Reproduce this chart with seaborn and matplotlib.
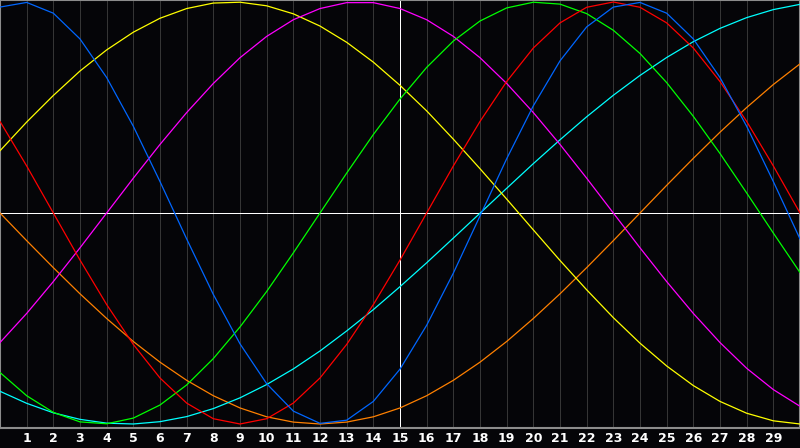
import pandas as pd
import seaborn as sns
import matplotlib.pyplot as plt

# Days shown on the chart (0 .. 30), labels only for 1 .. 29
days = list(range(31))
day_labels = [str(d) for d in range(1, 30)]

# Curve values per day (-1 = bottom, 1 = top)
blue = [0.976, 0.998, 0.947, 0.825, 0.642, 0.411, 0.149, -0.123, -0.386, -0.620,
        -0.809, -0.939, -0.997, -0.982, -0.893, -0.740, -0.532, -0.285, -0.014, 0.257,
        0.508, 0.721, 0.882, 0.976, 0.998, 0.947, 0.825, 0.642, 0.411, 0.149, -0.123]
red = [0.434, 0.223, 0.0, -0.223, -0.434, -0.623, -0.782, -0.901, -0.975, -1.0,
       -0.975, -0.901, -0.782, -0.623, -0.434, -0.223, 0.0, 0.223, 0.434, 0.623,
       0.782, 0.901, 0.975, 1.0, 0.975, 0.901, 0.782, 0.623, 0.434, 0.223, 0.0]
green = [-0.756, -0.866, -0.945, -0.990, -0.999, -0.972, -0.910, -0.815, -0.690, -0.540,
         -0.372, -0.189, 0.0, 0.189, 0.372, 0.540, 0.690, 0.815, 0.910, 0.972,
         0.999, 0.990, 0.945, 0.866, 0.756, 0.618, 0.458, 0.282, 0.095, -0.095, -0.282]
magenta = [-0.614, -0.476, -0.325, -0.165, 0.0, 0.165, 0.325, 0.476, 0.614, 0.736,
           0.837, 0.916, 0.969, 0.997, 0.997, 0.969, 0.916, 0.837, 0.736, 0.614,
           0.476, 0.325, 0.165, 0.0, -0.165, -0.325, -0.476, -0.614, -0.736, -0.837, -0.916]
yellow = [0.295, 0.431, 0.557, 0.673, 0.773, 0.857, 0.923, 0.969, 0.995, 0.999,
          0.982, 0.944, 0.886, 0.809, 0.715, 0.605, 0.484, 0.350, 0.210, 0.066,
          -0.080, -0.225, -0.364, -0.496, -0.617, -0.725, -0.818, -0.893, -0.949, -0.985, -1.0]
orange = [0.0, -0.131, -0.259, -0.383, -0.5, -0.609, -0.707, -0.793, -0.866, -0.924,
          -0.966, -0.991, -1.0, -0.991, -0.966, -0.924, -0.866, -0.793, -0.707, -0.609,
          -0.5, -0.383, -0.259, -0.131, 0.0, 0.131, 0.259, 0.383, 0.5, 0.609, 0.707]
cyan = [-0.845, -0.902, -0.947, -0.978, -0.996, -1.0, -0.989, -0.965, -0.927, -0.876,
        -0.813, -0.739, -0.654, -0.559, -0.458, -0.349, -0.236, -0.119, -0.001, 0.117,
        0.234, 0.347, 0.456, 0.558, 0.652, 0.737, 0.812, 0.875, 0.926, 0.964, 0.989]

series = {'orange': orange, 'cyan': cyan, 'yellow': yellow, 'magenta': magenta,
          'green': green, 'red': red, 'blue': blue}
colours = {'orange': '#ff8000', 'cyan': '#00ffff', 'yellow': '#ffff00',
           'magenta': '#ff00ff', 'green': '#00ff00', 'red': '#ff0000', 'blue': '#0066ff'}

df = pd.concat([pd.DataFrame({'day': days, 'value': v, 'curve': k}) for k, v in series.items()])

sns.set_style('dark', {'axes.facecolor': '#050508', 'figure.facecolor': '#050508',
                       'axes.edgecolor': '#8c8c8c', 'grid.color': '#333333'})
plt.rcParams['font.family'] = ['DejaVu Sans']

fig = plt.figure(figsize=(8, 4.48), dpi=100)
ax = fig.add_axes([0, 20 / 448, 1, 428 / 448])

# day grid lines
for d in range(1, 30):
    ax.axvline(d, color='#353535', lw=0.7, zorder=1, antialiased=False)

sns.lineplot(data=df, x='day', y='value', hue='curve', palette=colours, hue_order=list(series),
             legend=False, linewidth=0.9, ax=ax, zorder=3, sort=False, estimator=None)
for line in ax.lines[29:]:
    line.set_linewidth(0.9)

ax.axhline(0, color='white', lw=0.7, zorder=2, antialiased=False)
ax.axvline(15, color='white', lw=0.7, zorder=2, antialiased=False)

ax.set_xlim(0, 30)
ax.set_ylim(-1.019, 1.0095)
ax.set_xticks(range(1, 30))
ax.set_xticklabels(day_labels, color='white', fontsize=9, fontweight='bold')
ax.tick_params(axis='x', length=0, pad=3)
ax.set_yticks([])
ax.set_xlabel('')
ax.set_ylabel('')
for s in ax.spines.values():
    s.set_linewidth(1.5)
    s.set_color('#8c8c8c')

fig.savefig('out.png', dpi=100, facecolor='#050508')
